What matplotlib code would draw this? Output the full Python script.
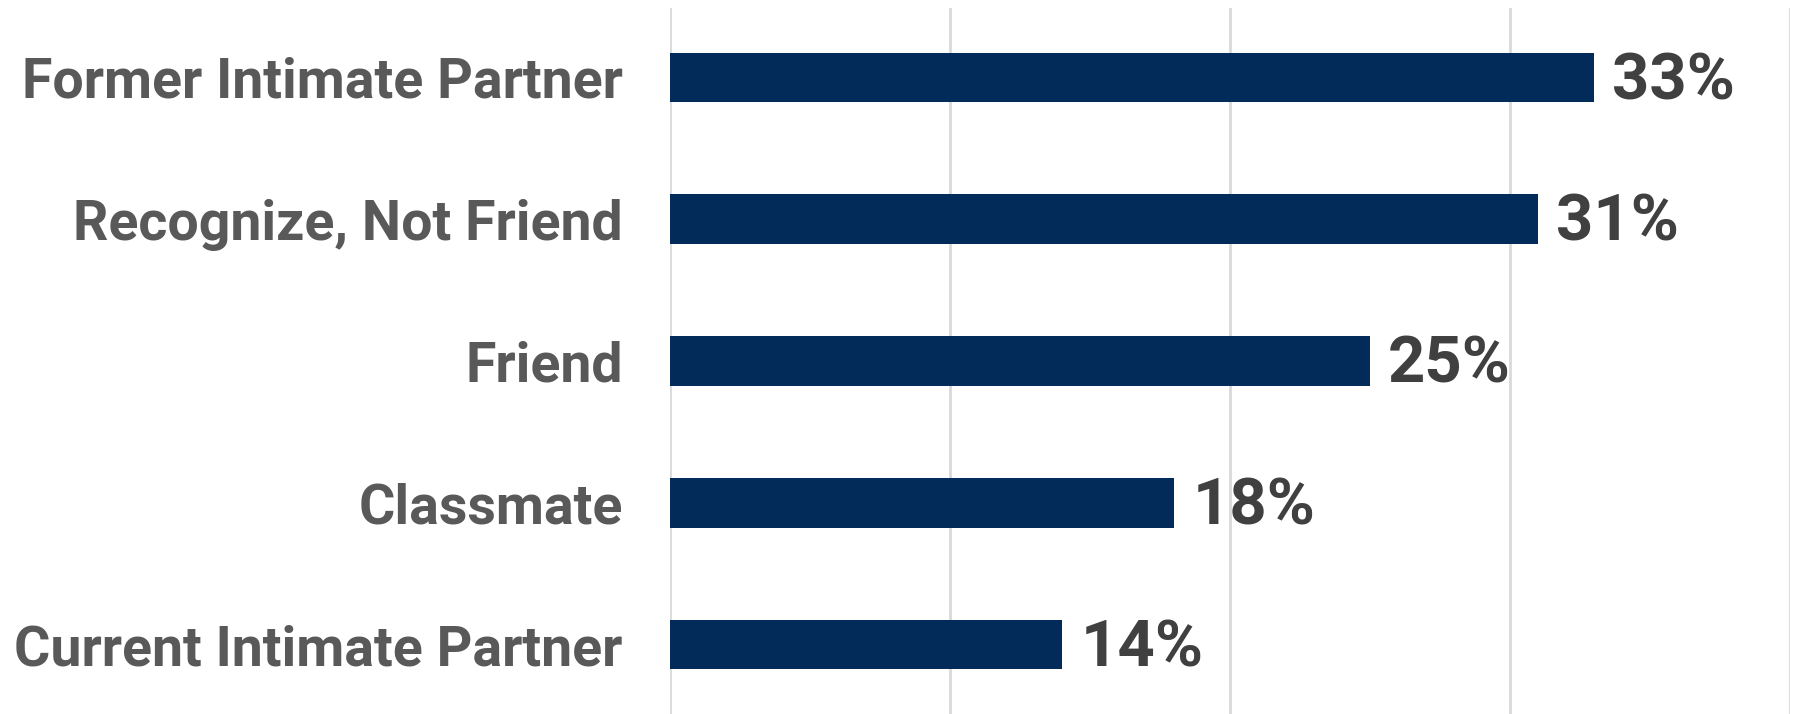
import matplotlib.pyplot as plt
from matplotlib.ticker import MultipleLocator

categories = ["Current Intimate Partner", "Classmate", "Friend",
              "Recognize, Not Friend", "Former Intimate Partner"]
values = [0.14, 0.18, 0.25, 0.31, 0.33]
value_labels = ["14%", "18%", "25%", "31%", "33%"]

plt.rcParams['font.family'] = ['Roboto', 'DejaVu Sans']

fig = plt.figure(figsize=(17.94, 7.14), dpi=100)
ax = fig.add_axes([670 / 1794, 0, 1120 / 1794, 1 - 8 / 714])

ypos = list(range(len(categories)))
ax.barh(ypos, values, height=0.35, color='#032B5A', zorder=3)

# подписи значений справа от столбцов
for y, v, lab in zip(ypos, values, value_labels):
    ax.text(v + 0.0065, y - 0.03, lab, va='center', ha='left', fontsize=47,
            fontweight='bold', color='#404040')

ax.set_xlim(0, 0.40)
ax.set_ylim(-0.49, 4.49)
ax.xaxis.set_major_locator(MultipleLocator(0.10))
ax.grid(axis='x', color='#D9D9D9', linewidth=2, zorder=0)
ax.set_xticklabels([])
ax.tick_params(axis='x', length=0)

ax.set_yticks(ypos)
ax.set_yticklabels(categories, fontsize=40, fontweight='bold', color='#595959')
ax.tick_params(axis='y', length=0, pad=34)

for s in ax.spines.values():
    s.set_visible(False)

fig.savefig('out.png', dpi=100)
